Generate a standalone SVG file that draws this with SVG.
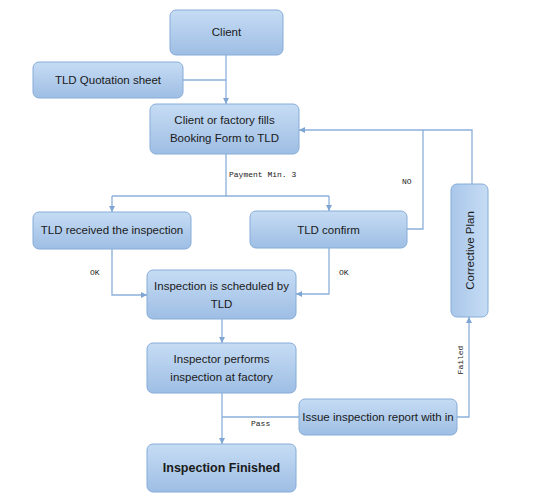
<svg xmlns="http://www.w3.org/2000/svg" width="540" height="503" viewBox="0 0 540 503">
<defs>
<linearGradient id="g" x1="0" y1="0" x2="0" y2="1">
<stop offset="0" stop-color="#c6dcf4"/>
<stop offset="1" stop-color="#9ebee4"/>
</linearGradient>
<linearGradient id="gv" x1="0" y1="0" x2="1" y2="0">
<stop offset="0" stop-color="#a9c7ea"/>
<stop offset="1" stop-color="#c6dcf4"/>
</linearGradient>
<marker id="a" viewBox="0 0 8 8" refX="8" refY="4" markerWidth="6" markerHeight="6" orient="auto" markerUnits="userSpaceOnUse">
<path d="M0,0 L8,4 L0,8 Z" fill="#7fa6d3"/>
</marker>
<style>
.n{fill:url(#g);stroke:#86acd8;stroke-width:1}
.t{font-family:"Liberation Sans",Arial,sans-serif;font-size:11.5px;fill:#1a1a1a;text-anchor:middle}
.b{font-weight:bold;font-size:12.5px}
.l{fill:none;stroke:#8cb0da;stroke-width:1.3}
.m{font-family:"Liberation Mono","Courier New",monospace;font-size:8px;fill:#222}
</style>
</defs>
<rect width="540" height="503" fill="#ffffff"/>
<g id="connectors">
<path class="l" d="M226,55 V104" marker-end="url(#a)"/>
<path class="l" d="M183,80 H226"/>
<path class="l" d="M226,154 V196 M112,196 H329"/>
<path class="l" d="M112,196 V212" marker-end="url(#a)"/>
<path class="l" d="M329,196 V211" marker-end="url(#a)"/>
<path class="l" d="M407,229 H423 V130 H299" marker-end="url(#a)"/>
<path class="l" d="M472,184 V130 H423"/>
<path class="l" d="M112,249 V295 H147" marker-end="url(#a)"/>
<path class="l" d="M329,248 V294 H296" marker-end="url(#a)"/>
<path class="l" d="M222,319 V343" marker-end="url(#a)"/>
<path class="l" d="M222,393 V444" marker-end="url(#a)"/>
<path class="l" d="M299,417 H222"/>
<path class="l" d="M457,417 H469 V317" marker-end="url(#a)"/>
<text class="m" x="229" y="177">Payment Min. 3</text>
<text class="m" x="402" y="184">NO</text>
<text class="m" x="90" y="275">OK</text>
<text class="m" x="339" y="275">OK</text>
<text class="m" x="251" y="426">Pass</text>
<text class="m" transform="translate(463,360) rotate(-90)" text-anchor="middle">Failed</text>
</g>
<g id="client"><rect class="n" x="170" y="10" width="113" height="45" rx="6"/><text class="t" x="226.5" y="36">Client</text></g>
<g id="quotation"><rect class="n" x="33" y="62" width="150" height="36" rx="6"/><text class="t" x="108" y="84">TLD Quotation sheet</text></g>
<g id="booking"><rect class="n" x="150" y="104" width="149" height="50" rx="6"/><text class="t" x="224.5" y="124">Client or factory fills</text><text class="t" x="224.5" y="142">Booking Form to TLD</text></g>
<g id="received"><rect class="n" x="33" y="212" width="158" height="37" rx="6"/><text class="t" x="112" y="234">TLD received the inspection</text></g>
<g id="confirm"><rect class="n" x="250" y="211" width="157" height="37" rx="6"/><text class="t" x="328.5" y="234">TLD confirm</text></g>
<g id="corrective"><rect x="451" y="184" width="37" height="133" rx="6" fill="url(#gv)" stroke="#86acd8"/><text class="t" transform="translate(474,250.5) rotate(-90)">Corrective Plan</text></g>
<g id="scheduled"><rect class="n" x="147" y="270" width="149" height="49" rx="6"/><text class="t" x="221.5" y="290">Inspection is scheduled by</text><text class="t" x="221.5" y="308">TLD</text></g>
<g id="inspector"><rect class="n" x="147" y="343" width="149" height="50" rx="6"/><text class="t" x="221.5" y="363">Inspector performs</text><text class="t" x="221.5" y="381">inspection at factory</text></g>
<g id="report"><rect class="n" x="299" y="399" width="158" height="36" rx="6"/><text class="t" x="378" y="421">Issue inspection report with in</text></g>
<g id="finished"><rect class="n" x="147" y="444" width="149" height="48" rx="6"/><text class="t b" x="221.5" y="472">Inspection Finished</text></g>
</svg>
